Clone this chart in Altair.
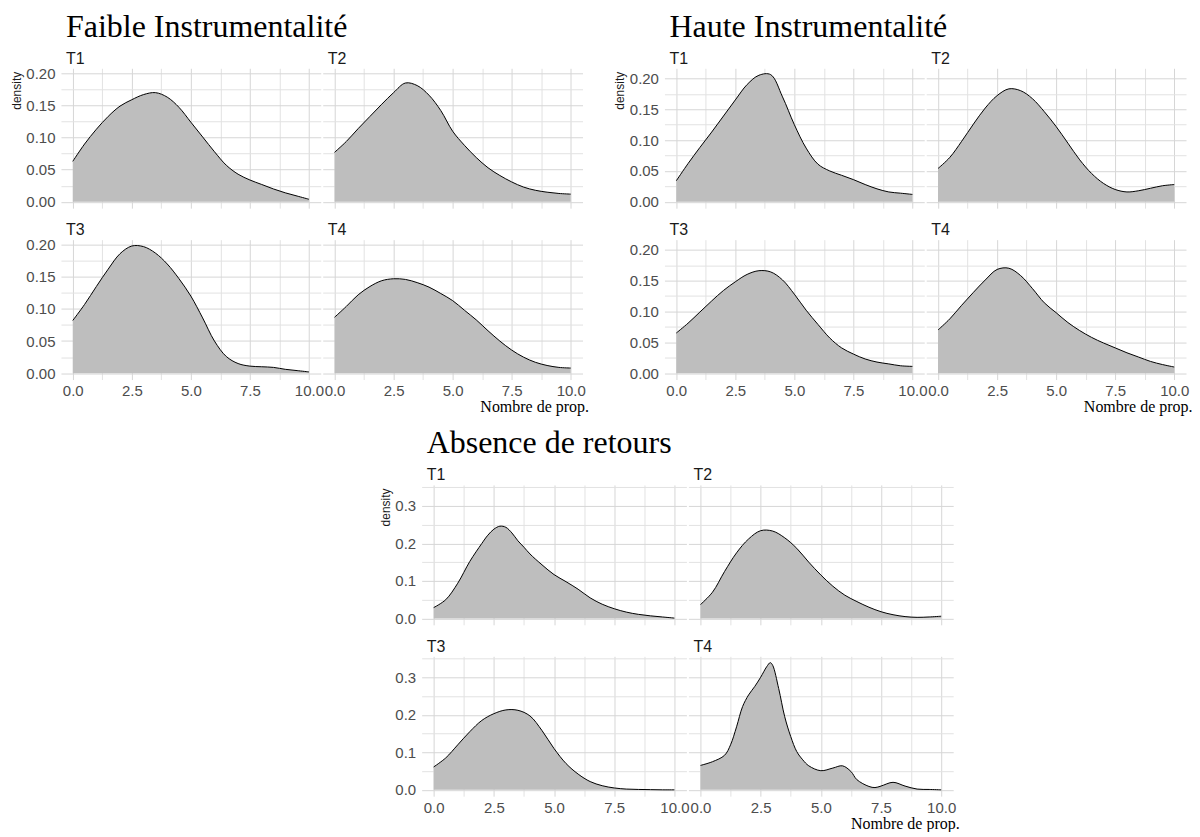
import altair as alt
import pandas as pd

# ---------------- data ----------------
X = [0.0, 0.5, 1.0, 1.5, 2.0, 2.5, 3.0, 3.5, 4.0, 4.5, 5.0,
     5.5, 6.0, 6.5, 7.0, 7.5, 8.0, 8.5, 9.0, 9.5, 10.0]

FAIBLE_T1 = [0.063, 0.090, 0.113, 0.133, 0.149, 0.159, 0.167, 0.170, 0.163, 0.147, 0.124,
             0.101, 0.078, 0.057, 0.043, 0.034, 0.027, 0.020, 0.014, 0.009, 0.004]
FAIBLE_T2 = [0.077, 0.094, 0.114, 0.133, 0.152, 0.170, 0.185, 0.181, 0.166, 0.142, 0.110,
             0.088, 0.069, 0.053, 0.041, 0.031, 0.023, 0.018, 0.015, 0.013, 0.012]
FAIBLE_T3 = [0.082, 0.107, 0.135, 0.162, 0.186, 0.198, 0.197, 0.187, 0.170, 0.147, 0.120,
             0.086, 0.050, 0.026, 0.015, 0.011, 0.010, 0.009, 0.006, 0.004, 0.002]
FAIBLE_T4 = [0.087, 0.104, 0.122, 0.135, 0.144, 0.147, 0.146, 0.141, 0.134, 0.124, 0.113,
             0.098, 0.083, 0.066, 0.050, 0.036, 0.025, 0.017, 0.012, 0.009, 0.008]

HAUTE_T1 = [0.034, 0.062, 0.088, 0.113, 0.139, 0.165, 0.190, 0.205, 0.206, 0.170, 0.125,
            0.087, 0.061, 0.050, 0.043, 0.036, 0.028, 0.021, 0.016, 0.014, 0.012]
HAUTE_T2 = [0.054, 0.072, 0.098, 0.126, 0.152, 0.172, 0.183, 0.180, 0.167, 0.146, 0.122,
            0.095, 0.068, 0.046, 0.030, 0.020, 0.016, 0.018, 0.022, 0.026, 0.028]
HAUTE_T3 = [0.065, 0.081, 0.099, 0.117, 0.134, 0.148, 0.160, 0.166, 0.164, 0.151, 0.128,
            0.102, 0.079, 0.057, 0.041, 0.031, 0.023, 0.018, 0.015, 0.012, 0.011]
HAUTE_T4 = [0.070, 0.088, 0.110, 0.131, 0.151, 0.168, 0.170, 0.158, 0.137, 0.114, 0.098,
            0.082, 0.069, 0.058, 0.049, 0.041, 0.033, 0.026, 0.019, 0.014, 0.010]

X_A1 = [0.0, 0.5, 1.0, 1.5, 2.0, 2.25, 2.5, 2.75, 3.0, 3.25, 3.5, 3.75, 4.0, 4.5, 5.0,
        5.5, 6.0, 6.5, 7.0, 7.5, 8.0, 8.5, 9.0, 9.5, 10.0]
ABSENCE_T1 = [0.029, 0.050, 0.094, 0.152, 0.200, 0.222, 0.238, 0.246, 0.243, 0.228, 0.207,
              0.190, 0.172, 0.143, 0.117, 0.098, 0.078, 0.055, 0.038, 0.026, 0.017, 0.011,
              0.007, 0.004, 0.001]
ABSENCE_T2 = [0.037, 0.070, 0.125, 0.175, 0.212, 0.234, 0.233, 0.215, 0.187, 0.150, 0.116,
              0.086, 0.062, 0.045, 0.030, 0.018, 0.010, 0.005, 0.003, 0.004, 0.006]
ABSENCE_T3 = [0.061, 0.085, 0.120, 0.155, 0.185, 0.203, 0.213, 0.212, 0.197, 0.158, 0.110,
              0.070, 0.042, 0.022, 0.011, 0.005, 0.002, 0.001, 0.0005, 0.0, 0.0]
X_A4 = [0.0, 0.5, 1.0, 1.25, 1.5, 1.75, 2.0, 2.25, 2.5, 2.75, 2.9, 3.0, 3.25, 3.5, 3.75,
        4.0, 4.25, 4.5, 5.0, 5.5, 5.9, 6.25, 6.5, 7.0, 7.25, 7.5, 8.0, 8.5, 9.0, 9.5, 10.0]
ABSENCE_T4 = [0.065, 0.075, 0.092, 0.120, 0.168, 0.222, 0.253, 0.275, 0.300, 0.328, 0.339,
              0.332, 0.270, 0.195, 0.142, 0.102, 0.080, 0.064, 0.051, 0.058, 0.064, 0.049,
              0.027, 0.009, 0.006, 0.010, 0.020, 0.010, 0.002, 0.001, 0.0]

GROUPS = ["Faible Instrumentalité", "Haute Instrumentalité", "Absence de retours"]
STRIPS = ["T1", "T2", "T3", "T4"]

X_TICKS = [0.0, 1.25, 2.5, 3.75, 5.0, 6.25, 7.5, 8.75, 10.0]
Y_TICKS_SMALL = [0.0, 0.025, 0.05, 0.075, 0.1, 0.125, 0.15, 0.175, 0.2]
Y_MAJOR_SMALL = [0.0, 0.05, 0.1, 0.15, 0.2]
Y_TICKS_BIG = [0.0, 0.05, 0.1, 0.15, 0.2, 0.25, 0.3, 0.35]
Y_MAJOR_BIG = [0.0, 0.1, 0.2, 0.3]

# ---------------- styling / layout ----------------
FILL = "#bebebe"
GRID_MAJOR = "#d6d6d6"
GRID_MINOR = "#e2e2e2"
SANS = "Liberation Sans"
SERIF = "Liberation Serif"
LABEL_SIZE = 15
TOP_W, BOT_W, PANEL_H = 260, 265, 140
ROW_GAP, COL_GAP = 31.5, 2
GROUP2_OFFSET = 604      # origin of group 2 relative to group 1
GROUP3_SHIFT = 359       # horizontal shift of group 3
GROUP3_DROP = 417        # vertical distance from top row to bottom group
TITLE_OFFSET = 0.8


def panel(xs, ys, ymax, big, width, strip, group, show_group, left=False, bottom=False,
          xtitle=False, ytitle=False):
    df = pd.DataFrame({"x": xs, "y": ys})
    lo, hi = -0.05 * ymax, 1.05 * ymax
    if big:
        yvals, ymajor = Y_TICKS_BIG, Y_MAJOR_BIG
        ylab = "round(datum.value*1000) % 100 == 0 ? format(datum.value, '.1f') : ''"
        ymin = "round(datum.value*1000) % 100 != 0"
    else:
        yvals, ymajor = Y_TICKS_SMALL, Y_MAJOR_SMALL
        ylab = "round(datum.value*1000) % 50 == 0 ? format(datum.value, '.2f') : ''"
        ymin = "round(datum.value*1000) % 50 != 0"
    xmin = "round(datum.value*100) % 250 != 0"

    # keep strip labels level: compensate for a top tick label poking above the panel
    top_pos = PANEL_H * (hi - max(v for v in ymajor if v <= hi)) / (hi - lo)
    overflow = max(0.0, LABEL_SIZE / 2 - top_pos) if left else 0.0

    xaxis = alt.Axis(
        values=X_TICKS, labels=bottom,
        labelExpr="round(datum.value*100) % 250 == 0 ? format(datum.value, '.1f') : ''",
        title="Nombre de prop." if xtitle else None,
        grid=True, gridColor={"condition": {"test": xmin, "value": GRID_MINOR}, "value": GRID_MAJOR},
        gridWidth=1, ticks=False, tickSize=0, domain=False,
        labelFont=SANS, labelFontSize=LABEL_SIZE, labelColor="#4d4d4d", labelPadding=4,
        labelFlush=False, labelOverlap=False,
        titleFont=SERIF, titleFontSize=16, titleFontWeight="normal", titleColor="black",
        titleAnchor="end", titleAlign="right", titleX=width + 6, titlePadding=0,
    )
    yaxis = alt.Axis(
        values=yvals, labels=left, labelExpr=ylab,
        labelFontSize={"condition": {"test": ymin, "value": 0}, "value": LABEL_SIZE},
        title="density" if ytitle else None,
        grid=True, gridColor={"condition": {"test": ymin, "value": GRID_MINOR}, "value": GRID_MAJOR},
        gridWidth=1, ticks=False, tickSize=0, domain=False,
        labelFont=SANS, labelColor="#4d4d4d", labelPadding=6,
        labelOverlap=False,
        titleFont=SANS, titleFontSize=12, titleFontWeight="normal", titleColor="#1a1a1a",
        titleAnchor="end", titleAngle=270, titleAlign="right", titleY=3, titlePadding=2.5,
    )
    base = alt.Chart(df).encode(
        x=alt.X("x:Q", scale=alt.Scale(domain=[-0.5, 10.5], nice=False, zero=False), axis=xaxis),
        y=alt.Y("y:Q", scale=alt.Scale(domain=[lo, hi], nice=False, zero=False), axis=yaxis),
    )
    area = base.mark_area(color=FILL, interpolate="catmull-rom").encode(y2=alt.Y2(datum=0))
    line = base.mark_line(color="black", strokeWidth=1, interpolate="catmull-rom")
    title = alt.TitleParams(
        text=group if show_group else " ", subtitle=[strip], anchor="start", frame="group", dx=5,
        font=SERIF, fontSize=32, fontWeight="normal", color="black",
        subtitleFont=SANS, subtitleFontSize=16, subtitleFontWeight="normal",
        subtitleColor="#1a1a1a", subtitlePadding=7, offset=TITLE_OFFSET - overflow,
    )
    return alt.layer(area, line).properties(width=width, height=PANEL_H, title=title)


def spacer(w, h):
    return alt.Chart(pd.DataFrame({"s": [0]})).mark_point(opacity=0, size=0).encode(
        x=alt.value(0), y=alt.value(0)).properties(width=w, height=h)


def group_chart(curves, xs_list, big, width, name):
    ymax = max(max(c) for c in curves)
    out = []
    for i, (c, xs) in enumerate(zip(curves, xs_list)):
        out.append(panel(xs, c, ymax, big, width, STRIPS[i], name, i == 0,
                         left=(i % 2 == 0), bottom=(i >= 2),
                         xtitle=(i == 3), ytitle=(i == 0)))
    return alt.concat(*out, columns=2, spacing={"row": ROW_GAP, "column": COL_GAP},
                      bounds="flush")


G1 = group_chart([FAIBLE_T1, FAIBLE_T2, FAIBLE_T3, FAIBLE_T4], [X] * 4, False, TOP_W, GROUPS[0])
G2 = group_chart([HAUTE_T1, HAUTE_T2, HAUTE_T3, HAUTE_T4], [X] * 4, False, TOP_W, GROUPS[1])
G3 = group_chart([ABSENCE_T1, ABSENCE_T2, ABSENCE_T3, ABSENCE_T4], [X_A1, X, X, X_A4], True,
                 BOT_W, GROUPS[2])

top = alt.hconcat(G1, G2, spacing=GROUP2_OFFSET, bounds="flush")
bottom = alt.hconcat(spacer(GROUP3_SHIFT, PANEL_H), G3, spacing=COL_GAP, bounds="flush")

chart = alt.vconcat(top, bottom, spacing=GROUP3_DROP, bounds="flush").properties(
    padding={"left": 2, "top": 2, "right": 0, "bottom": 0},
    background="white",
).configure_view(stroke=None)

chart.save("out.html", embed_options={"renderer": "svg", "actions": False})
